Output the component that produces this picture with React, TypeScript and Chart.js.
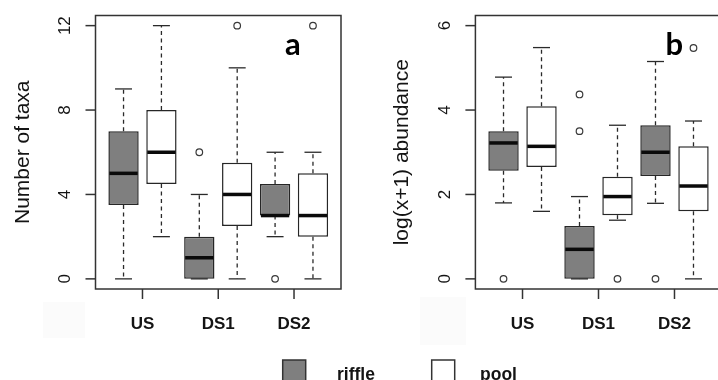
import { useEffect, useRef } from "react";
import { Chart, registerables } from "chart.js";

Chart.register(...registerables);

// Sites along the stream and the two habitat types
const SITES = ["US", "DS1", "DS2"];
const HABITATS = ["riffle", "pool"];

// Five-number summaries per site: [min, q1, median, q3, max]
const TAXA_RIFFLE = [
  [0, 3.5, 5, 7, 9],
  [0, 0, 1, 2, 4],
  [2, 3, 3, 4.5, 6],
];
const TAXA_POOL = [
  [2, 4.5, 6, 8, 12],
  [0, 2.5, 4, 5.5, 10],
  [0, 2, 3, 5, 6],
];
const TAXA_RIFFLE_OUT = [[], [6], [0]];
const TAXA_POOL_OUT = [[], [12], [12]];
const TAXA_TICKS = [0, 4, 8, 12];

const ABUND_RIFFLE = [
  [1.8, 2.56, 3.22, 3.5, 4.78],
  [0, 0, 0.7, 1.25, 1.95],
  [1.79, 2.44, 3.0, 3.64, 5.15],
];
const ABUND_POOL = [
  [1.6, 2.65, 3.14, 4.09, 5.48],
  [1.39, 1.51, 1.95, 2.42, 3.64],
  [0, 1.6, 2.2, 3.14, 3.74],
];
const ABUND_RIFFLE_OUT = [[0], [4.37, 3.5], [0]];
const ABUND_POOL_OUT = [[], [0], [5.47]];
const ABUND_TICKS = [0, 2, 4, 6];

const FONT = '"Liberation Sans", Arial, Helvetica, sans-serif';
const INK = "#141414";
const EDGE = "#262626";
const RIFFLE_FILL = "#7f7f7f";
const POOL_FILL = "#ffffff";

type PanelSpec = {
  riffle: number[][];
  pool: number[][];
  riffleOut: number[][];
  poolOut: number[][];
  ticks: number[];
  yTitle: string;
  letter: string;
  legend: boolean;
  width: number;
  left: number;
  right: number;
};

function line(ctx: CanvasRenderingContext2D, x1: number, y1: number, x2: number, y2: number) {
  ctx.beginPath();
  ctx.moveTo(x1, y1);
  ctx.lineTo(x2, y2);
  ctx.stroke();
}

function rotatedText(ctx: CanvasRenderingContext2D, text: string, x: number, y: number) {
  ctx.save();
  ctx.translate(x, y);
  ctx.rotate(-Math.PI / 2);
  ctx.textAlign = "center";
  ctx.textBaseline = "alphabetic";
  ctx.fillText(text, 0, 0);
  ctx.restore();
}

// R-style box plot decorations: whiskers, medians, frame, axes and labels
const rBoxPlugin = {
  id: "rBox",
  beforeDatasetsDraw(chart: any) {
    const ctx: CanvasRenderingContext2D = chart.ctx;
    const ys = chart.scales.y;
    ctx.save();
    ctx.strokeStyle = "#2a2a2a";
    ctx.lineWidth = 1.3;
    chart.data.datasets.forEach((ds: any, di: number) => {
      if (!ds.stats) return;
      const meta = chart.getDatasetMeta(di);
      meta.data.forEach((el: any, j: number) => {
        const [mn, q1, , q3, mx] = ds.stats[j];
        const x = el.x;
        const cap = el.width * 0.28;
        ctx.setLineDash([4, 3.5]);
        line(ctx, x, ys.getPixelForValue(q3), x, ys.getPixelForValue(mx));
        line(ctx, x, ys.getPixelForValue(q1), x, ys.getPixelForValue(mn));
        ctx.setLineDash([]);
        line(ctx, x - cap, ys.getPixelForValue(mx), x + cap, ys.getPixelForValue(mx));
        line(ctx, x - cap, ys.getPixelForValue(mn), x + cap, ys.getPixelForValue(mn));
      });
    });
    ctx.restore();
  },
  afterDatasetsDraw(chart: any, _args: any, opts: any) {
    const ctx: CanvasRenderingContext2D = chart.ctx;
    const ys = chart.scales.y;
    const xs = chart.scales.x;
    const ca = chart.chartArea;
    ctx.save();

    // medians
    ctx.strokeStyle = "#0a0a0a";
    ctx.lineWidth = 3.5;
    chart.data.datasets.forEach((ds: any, di: number) => {
      if (!ds.stats) return;
      chart.getDatasetMeta(di).data.forEach((el: any, j: number) => {
        const py = ys.getPixelForValue(ds.stats[j][2]);
        line(ctx, el.x - el.width / 2 + 1, py, el.x + el.width / 2 - 1, py);
      });
    });

    // frame
    ctx.strokeStyle = "#333";
    ctx.lineWidth = 1.5;
    ctx.strokeRect(ca.left, ca.top, ca.right - ca.left, ca.bottom - ca.top);

    // y axis ticks + rotated labels
    ctx.fillStyle = INK;
    ctx.font = `17px ${FONT}`;
    ys.ticks.forEach((t: any) => {
      const py = ys.getPixelForValue(t.value);
      line(ctx, ca.left - 10, py, ca.left, py);
      rotatedText(ctx, String(t.value), ca.left - 25.5, py);
    });

    // x axis ticks + site labels
    ctx.font = `bold 17px ${FONT}`;
    ctx.textAlign = "center";
    ctx.textBaseline = "alphabetic";
    xs.ticks.forEach((t: any, i: number) => {
      const px = xs.getPixelForValue(t.value);
      line(ctx, px, ca.bottom, px, ca.bottom + 10);
      ctx.fillText(SITES[i], px, ca.bottom + 39.5);
    });

    // y axis title
    ctx.font = `21px ${FONT}`;
    rotatedText(ctx, opts.yTitle, ca.left - 67, (ca.top + ca.bottom) / 2);

    // panel letter
    ctx.font = `bold 31px Lato, "Open Sans", ${FONT}`;
    ctx.textAlign = "left";
    ctx.fillStyle = "#000";
    ctx.fillText(opts.letter, ca.right - 56, ca.top + 39.5);

    // shared habitat legend
    if (opts.legend) {
      const boxX = [282.7, 431.7];
      const textX = [337, 480];
      ctx.font = `bold 17.5px ${FONT}`;
      chart.data.datasets
        .filter((ds: any) => ds.stats)
        .forEach((ds: any, k: number) => {
          ctx.fillStyle = ds.backgroundColor;
          ctx.fillRect(boxX[k], 360, 23, 23);
          ctx.strokeStyle = "#333";
          ctx.lineWidth = 1.5;
          ctx.strokeRect(boxX[k], 360, 23, 23);
          ctx.fillStyle = INK;
          ctx.fillText(ds.label, textX[k], 379.5);
        });
    }
    ctx.restore();
  },
};

function panelConfig(p: PanelSpec): any {
  const lo = p.ticks[0];
  const hi = p.ticks[p.ticks.length - 1];
  const yPad = (hi - lo) * 0.04;
  const xLo = 0.5;
  const xHi = SITES.length * 2 + 0.5;
  const xPad = (xHi - xLo) * 0.04;

  const boxDataset = (label: string, stats: number[][], offset: number, fill: string) => ({
    label,
    stats,
    data: stats.map((s, i) => ({ x: 2 * i + offset, y: [s[1], s[3]] })),
    backgroundColor: fill,
    borderColor: EDGE,
    borderWidth: 1.5,
    borderSkipped: false,
    grouped: false,
    barPercentage: 0.8,
    categoryPercentage: 1,
  });

  const outliers: { x: number; y: number }[] = [];
  p.riffleOut.forEach((vals, i) => vals.forEach((v) => outliers.push({ x: 2 * i + 1, y: v })));
  p.poolOut.forEach((vals, i) => vals.forEach((v) => outliers.push({ x: 2 * i + 2, y: v })));

  return {
    type: "bar",
    data: {
      datasets: [
        boxDataset(HABITATS[0], p.riffle, 1, RIFFLE_FILL),
        boxDataset(HABITATS[1], p.pool, 2, POOL_FILL),
        {
          type: "scatter",
          label: "outliers",
          data: outliers,
          pointRadius: 3.3,
          pointBorderWidth: 1.2,
          pointBackgroundColor: "#ffffff",
          pointBorderColor: "#3a3a3a",
        },
      ],
    },
    options: {
      animation: false,
      responsive: false,
      devicePixelRatio: 1,
      layout: { padding: { left: p.left, right: p.width - p.right, top: 15.5, bottom: 91 } },
      scales: {
        x: {
          type: "linear",
          display: false,
          offset: false,
          min: xLo - xPad,
          max: xHi + xPad,
          afterBuildTicks: (s: any) => {
            s.ticks = SITES.map((_, i) => ({ value: 2 * i + 1.5 }));
          },
        },
        y: {
          type: "linear",
          display: false,
          min: lo - yPad,
          max: hi + yPad,
          afterBuildTicks: (s: any) => {
            s.ticks = p.ticks.map((v) => ({ value: v }));
          },
        },
      },
      plugins: {
        legend: { display: false },
        tooltip: { enabled: false },
        rBox: { yTitle: p.yTitle, letter: p.letter, legend: p.legend },
      },
    },
    plugins: [rBoxPlugin],
  };
}

export default function App() {
  const refA = useRef<HTMLCanvasElement>(null);
  const refB = useRef<HTMLCanvasElement>(null);

  useEffect(() => {
    const a = new Chart(
      refA.current!,
      panelConfig({
        riffle: TAXA_RIFFLE,
        pool: TAXA_POOL,
        riffleOut: TAXA_RIFFLE_OUT,
        poolOut: TAXA_POOL_OUT,
        ticks: TAXA_TICKS,
        yTitle: "Number of taxa",
        letter: "a",
        legend: true,
        width: 718,
        left: 95.5,
        right: 341,
      })
    );
    const b = new Chart(
      refB.current!,
      panelConfig({
        riffle: ABUND_RIFFLE,
        pool: ABUND_POOL,
        riffleOut: ABUND_RIFFLE_OUT,
        poolOut: ABUND_POOL_OUT,
        ticks: ABUND_TICKS,
        yTitle: "log(x+1) abundance",
        letter: "b",
        legend: false,
        width: 740,
        left: 475.4,
        right: 721.6,
      })
    );
    return () => {
      a.destroy();
      b.destroy();
    };
  }, []);

  return (
    <div
      style={{
        position: "absolute",
        left: 0,
        top: 0,
        width: 718,
        height: 380,
        overflow: "hidden",
        background: "#ffffff",
      }}
    >
      <div style={{ position: "absolute", left: 43, top: 302, width: 42, height: 36, background: "#fbfbfb" }} />
      <div style={{ position: "absolute", left: 420, top: 297, width: 46, height: 48, background: "#fbfbfb" }} />
      <canvas ref={refA} width={718} height={380} style={{ position: "absolute", left: 0, top: 0 }} />
      <canvas ref={refB} width={740} height={380} style={{ position: "absolute", left: 0, top: 0 }} />
    </div>
  );
}
